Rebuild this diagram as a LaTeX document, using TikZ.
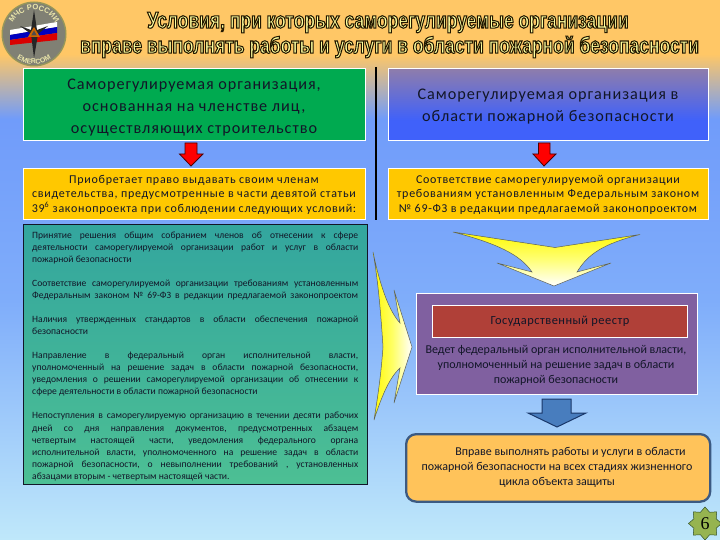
\documentclass[tikz,border=0pt]{standalone}
\usepackage{fontspec}
\usetikzlibrary{shapes.geometric,decorations.text}
\setmainfont{Carlito}
\newfontfamily\titlef[FakeBold=4.5,FakeStretch=0.76]{Liberation Sans Bold}
\newfontfamily\bodyf{Carlito}
\newfontfamily\logof{Liberation Sans Bold}
\newfontfamily\numf{Liberation Serif}
\pgfdeclareverticalshading{bgshade}{100bp}{rgb(0bp)=(0.75,0.91,0.98); rgb(25bp)=(0.75,0.91,0.98); rgb(47bp)=(0.50,0.68,0.98); rgb(64bp)=(0.44,0.61,0.98); rgb(70bp)=(1,0.78,0.40); rgb(100bp)=(1,0.78,0.40)}
\pgfdeclareverticalshading{blueshade}{100bp}{rgb(0bp)=(0.25,0.38,0.98); rgb(39bp)=(0.25,0.38,0.98); rgb(75bp)=(0.56,0.49,0.67); rgb(100bp)=(0.56,0.49,0.67)}
\pgfdeclareverticalshading{tealshade}{100bp}{rgb(0bp)=(0.30,0.75,0.58); rgb(25bp)=(0.30,0.75,0.58); rgb(75bp)=(0.20,0.65,0.62); rgb(100bp)=(0.20,0.65,0.62)}
\definecolor{ink}{RGB}{18,22,40}
\definecolor{greenbox}{RGB}{0,170,80}
\definecolor{amber}{RGB}{255,200,0}
\definecolor{plum}{RGB}{128,96,160}
\definecolor{brick}{RGB}{176,64,56}
\definecolor{peach}{RGB}{255,195,90}
\definecolor{steel}{RGB}{60,90,130}
\definecolor{arrowblue}{RGB}{72,125,190}
\definecolor{arrowdark}{RGB}{25,55,105}
\definecolor{starfill}{RGB}{150,180,80}
\definecolor{stardark}{RGB}{50,80,40}
\definecolor{shapeedge}{RGB}{90,95,90}
\definecolor{ringgray}{RGB}{128,128,116}
\definecolor{ringedge}{RGB}{150,150,90}
\definecolor{ringtext}{RGB}{235,230,170}
\newcommand{\titlepaint}[1]{\special{pdf:bcolor [1 1 0.62] [0.13 0.09 0]}#1\special{pdf:ecolor}}
\newcommand{\jl}[1]{\hbox to 326pt{#1}}
\tikzset{
  x=1pt,y=-1pt,
  boxwhite/.style={draw=white,line width=0.9pt,rectangle,anchor=north west,inner sep=0pt},
  blocktext/.style={align=center,text=ink,inner sep=0pt},
  titletext/.style={inner sep=0pt,font=\titlef\fontsize{23}{25}\selectfont},
  redarrow/.style={fill=red,draw=black!70!red,line width=0.8pt,line join=miter},
  bigtext/.style={font=\bodyf\fontsize{16.2}{21.8}\selectfont\addfontfeature{LetterSpace=6}},
  midtext/.style={font=\bodyf\fontsize{12}{14.6}\selectfont\addfontfeature{LetterSpace=6}},
  sidetext/.style={font=\bodyf\fontsize{12}{15}\selectfont},
  flare/.style={draw=shapeedge,line width=0.5pt,line join=miter}
}
\begin{document}
\begin{tikzpicture}
\useasboundingbox (0,0) rectangle (720,540);
\fill[shading=bgshade] (0,0) rectangle (720,540);

% logo
\begin{scope}[shift={(34,34)},x=1pt,y=1pt]
  \fill[ringedge] (0,0) circle[radius=32.5];
  \fill[ringgray] (0,0) circle[radius=31];
  \fill[white] (-24,4) -- (23,12) -- (23,7) -- (-24,-1) -- cycle;
  \fill[blue!75!black] (-24,-1) -- (23,7) -- (23,1) -- (-24,-6) -- cycle;
  \fill[red!85!black] (-24,-6) -- (23,1) -- (23,-6) -- (-24,-11) -- cycle;
  \fill[black!85] (0,24) -- (3,4) -- (14,8) -- (4,0) -- (0,-24) -- (-3,0) -- (-14,8) -- (-3,4) -- cycle;
  \fill[orange!80!black] (0,7) -- (6,-3) -- (-6,-3) -- cycle;
  \fill[black!70] (0,3.5) -- (2.8,-1.5) -- (-2.8,-1.5) -- cycle;
  \path[decorate,decoration={text along path,text align=center,text color=ringtext,
     text={|\logof\fontsize{7.6}{8}\selectfont|МЧС РОССИИ}}]
     (170:24) arc[start angle=170,end angle=10,radius=24];
  \path[decorate,decoration={text along path,text align=center,text color=ringtext,
     text={|\logof\fontsize{7}{8}\selectfont|EMERCOM}}]
     (205:30) arc[start angle=205,end angle=335,radius=30];
\end{scope}

% title
\node[titletext] (t1) at (388,22.5) {\titlepaint{Условия, при которых саморегулируемые организации}};
\node[titletext] (t2) at (389.5,47) {\titlepaint{вправе выполнять работы и услуги в области пожарной безопасности}};

% top row
\node[boxwhite,fill=greenbox,minimum width=342pt,minimum height=72pt] (green) at (23,68) {};
\node[blocktext,bigtext] (greent) at (194,107.5) {Саморегулируемая организация,\\основанная на членстве лиц,\\осуществляющих строительство};
\node[boxwhite,shading=blueshade,minimum width=320pt,minimum height=72pt] (blue) at (388,68) {};
\node[blocktext,bigtext] (bluet) at (548,106.5) {Саморегулируемая организация в\\области пожарной безопасности};
\coordinate (divtop) at (376,67);
\coordinate (divbot) at (376,220);
\draw[black,line width=2.6pt] (divtop) -- (divbot);

% red arrows
\draw[redarrow] (185,143) -- (197,143) -- (197,154) -- (203,154) -- (191,166) -- (179.5,154) -- (185,154) -- cycle;
\draw[redarrow] (538.5,143) -- (550,143) -- (550,154) -- (556,154) -- (544,166) -- (533,154) -- (538.5,154) -- cycle;

% amber boxes
\node[boxwhite,fill=amber,minimum width=342pt,minimum height=51pt] (amberl) at (23,168) {};
\node[blocktext,midtext] (amberlt) at (194,194.6) {Приобретает право выдавать своим членам\\свидетельства, предусмотренные в части девятой статьи\\39\textsuperscript{6} законопроекта при соблюдении следующих условий:};
\node[boxwhite,fill=amber,minimum width=320pt,minimum height=51pt] (amberr) at (388,168) {};
\node[blocktext,midtext] (amberrt) at (548,194.6) {Соответствие саморегулируемой организации\\требованиям установленным Федеральным законом\\№ 69-ФЗ в редакции предлагаемой законопроектом};

% teal box
\node[rectangle,draw=ink,line width=0.9pt,shading=tealshade,anchor=north west,inner sep=0pt,minimum width=344pt,minimum height=260pt] (teal) at (23,224) {};
\node[anchor=north west,inner sep=0pt,text=ink] (tealt) at (32,231.5) {\parbox{326pt}{\bodyf\fontsize{9.6}{12.05}\selectfont\setlength{\parindent}{0pt}\setlength{\lineskip}{0pt}%
\jl{Принятие\hfill решения\hfill общим\hfill собранием\hfill членов\hfill об\hfill отнесении\hfill к\hfill сфере}
\jl{деятельности\hfill саморегулируемой\hfill организации\hfill работ\hfill и\hfill услуг\hfill в\hfill области}
\jl{пожарной безопасности\hfill}
\jl{\hfill}
\jl{Соответствие саморегулируемой организации требованиям установленным}
\jl{Федеральным законом № 69-ФЗ в редакции предлагаемой законопроектом}
\jl{\hfill}
\jl{Наличия\hfill утвержденных\hfill стандартов\hfill в\hfill области\hfill обеспечения\hfill пожарной}
\jl{безопасности\hfill}
\jl{\hfill}
\jl{Направление\hfill в\hfill федеральный\hfill орган\hfill исполнительной\hfill власти,}
\jl{уполномоченный\hfill на\hfill решение\hfill задач\hfill в\hfill области\hfill пожарной\hfill безопасности,}
\jl{уведомления\hfill о\hfill решении\hfill саморегулируемой\hfill организации\hfill об\hfill отнесении\hfill к}
\jl{сфере деятельности в области пожарной безопасности\hfill}
\jl{\hfill}
\jl{Непоступления в саморегулируемую организацию в течении десяти рабочих}
\jl{дней\hfill со\hfill дня\hfill направления\hfill документов,\hfill предусмотренных\hfill абзацем}
\jl{четвертым\hfill настоящей\hfill части,\hfill уведомления\hfill федерального\hfill органа}
\jl{исполнительной\hfill власти,\hfill уполномоченного\hfill на\hfill решение\hfill задач\hfill в\hfill области}
\jl{пожарной\hfill безопасности,\hfill о\hfill невыполнении\hfill требований\hfill ,\hfill установленных}
\jl{абзацами вторым - четвертым настоящей части.\hfill}
}};

% yellow flare arrows
\draw[flare,top color=yellow!95!orange,bottom color=white,middle color=yellow!55!white]
  (453,232) -- (555,247.5) -- (640,234.5) .. controls (603,244) and (588,254) .. (577,272) -- (611,263) -- (554,286) -- (497,263) -- (532,272) .. controls (520,254) and (495,243) .. (453,232) -- cycle;
\draw[flare,left color=yellow!95!orange,right color=white,middle color=yellow!60!white]
  (373,252) .. controls (378,280) and (381,315) .. (383,347) .. controls (381,375) and (378,395) .. (374,420) .. controls (382,395) and (390,377) .. (400,368) -- (394,403) -- (412,347) -- (394,290) -- (400,323) .. controls (390,312) and (381,290) .. (373,252) -- cycle;

% purple register
\node[boxwhite,fill=plum,minimum width=281pt,minimum height=101pt] (reg) at (416,292.5) {};
\node[boxwhite,fill=brick,minimum width=255pt,minimum height=32pt] (state) at (432,305) {};
\node[blocktext,font=\bodyf\fontsize{12.4}{14}\selectfont\addfontfeature{LetterSpace=4}] (statet) at (state.center) {Государственный реестр};
\node[blocktext,sidetext] (regt) at (556,365) {Ведет федеральный орган исполнительной власти,\\уполномоченный на решение задач в области\\пожарной безопасности};

% blue arrow
\draw[fill=arrowblue,draw=arrowdark,line width=1pt,line join=miter] (542,399) -- (571,399) -- (571,413) -- (586,413) -- (557,427) -- (528,413) -- (542,413) -- cycle;

% rounded box
\node[rectangle,rounded corners=10pt,draw=steel,line width=2.3pt,fill=peach,anchor=north west,inner sep=0pt,minimum width=304pt,minimum height=67.5pt] (right) at (405,433) {};
\node[blocktext,sidetext] (rightt) at (557,467.3) {\hspace*{27pt}Вправе выполнять работы и услуги в области\\пожарной безопасности на всех стадиях жизненного\\цикла объекта защиты};

% star
\node[star,star points=8,star point ratio=1.36,minimum size=33pt,inner sep=0pt,fill=starfill,draw=stardark,line width=0.5pt,font=\numf\fontsize{18}{18}\selectfont,text=black] (pg) at (705,523.5) {6};
\end{tikzpicture}
\end{document}
